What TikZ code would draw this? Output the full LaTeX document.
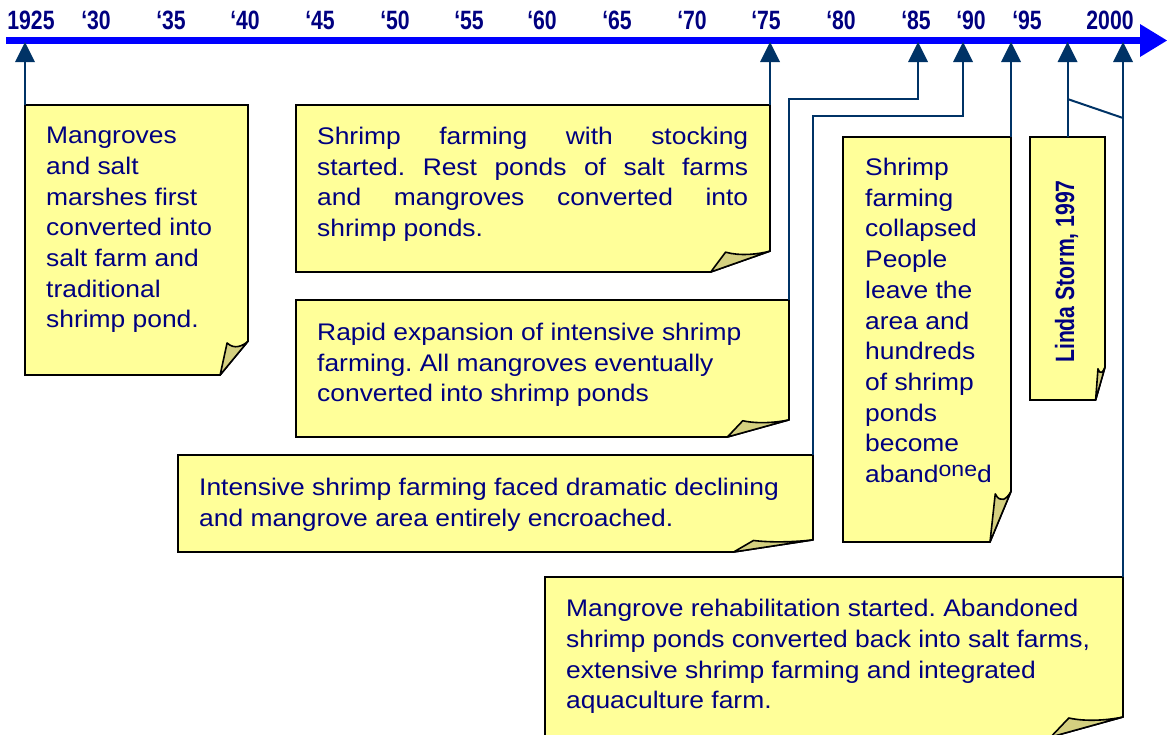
\documentclass[tikz,border=0pt]{standalone}
\usepackage{fontspec}
\newfontfamily\notefont[FakeStretch=1.1]{Liberation Sans}
\newfontfamily\yearfont[FakeStretch=0.8]{Liberation Sans}
\usetikzlibrary{arrows.meta,calc}
\frenchspacing
\definecolor{noteyellow}{RGB}{255,255,153}
\definecolor{curlolive}{RGB}{212,208,128}
\definecolor{inknavy}{RGB}{0,0,128}
\definecolor{linknavy}{RGB}{0,51,102}
\definecolor{axisblue}{RGB}{0,0,255}
\tikzset{
  axisline/.style={draw=axisblue, line width=7.5pt, -{Triangle[length=27pt,width=33pt,line width=0pt]}},
  link/.style={draw=linknavy, line width=2pt, -{Triangle[length=20pt,width=20pt,line width=0pt]}},
  plainlink/.style={draw=linknavy, line width=2pt},
  notebox/.style={anchor=north west, inner sep=0pt, outer sep=0pt},
  notebody/.style={fill=noteyellow, draw=black, line width=1.6pt},
  notecurl/.style={fill=curlolive, draw=black, line width=1.6pt, line join=round},
  notetext/.style={anchor=north west, inner sep=0pt, align=left, text=inknavy,
    font=\notefont\fontsize{24}{30.7}\selectfont, execute at begin node=\strut},
  year/.style={anchor=base, text=inknavy, font=\yearfont\bfseries\fontsize{26.5}{30}\selectfont}
}
% sticky note outline with the curled corner at the bottom right
\newcommand\foldbox[1]{%
  \path[notebody] let \p1=(#1.north west), \p2=(#1.south east),
      \n1={0.125*(\x2-\x1)}, \n2={0.125*(\y1-\y2)} in
    (\p1) -- (\x2,\y1) -- (\x2,\y2+\n2) -- (\x2-\n1,\y2) -- (\x1,\y2) -- cycle;
  \path[notecurl] let \p1=(#1.north west), \p2=(#1.south east),
      \n1={0.125*(\x2-\x1)}, \n2={0.125*(\y1-\y2)} in
    (\x2-\n1,\y2) -- (\x2-0.75*\n1,\y2+0.95*\n2)
      .. controls (\x2-0.5*\n1,\y2+0.75*\n2) and (\x2-0.2*\n1,\y2+0.85*\n2) .. (\x2,\y2+\n2)
      -- cycle;
}

\begin{document}
\begin{tikzpicture}[x=1pt, y=-1pt]
  \useasboundingbox (0,0) rectangle (1167,734);
  \clip (0,0) rectangle (1167,734);

  % time axis
  \coordinate (axis-w) at (6,40.5);
  \coordinate (axis-e) at (1167,40.5);
  \draw[axisline] (axis-w) -- (axis-e);

  \node[year] (yr25) at (31,29) {1925};
  \node[year] (yr30) at (96,29) {‘30};
  \node[year] (yr35) at (171,29) {‘35};
  \node[year] (yr40) at (245,29) {‘40};
  \node[year] (yr45) at (320,29) {‘45};
  \node[year] (yr50) at (395,29) {‘50};
  \node[year] (yr55) at (469,29) {‘55};
  \node[year] (yr60) at (542,29) {‘60};
  \node[year] (yr65) at (617,29) {‘65};
  \node[year] (yr70) at (692,29) {‘70};
  \node[year] (yr75) at (766,29) {‘75};
  \node[year] (yr80) at (841,29) {‘80};
  \node[year] (yr85) at (916,29) {‘85};
  \node[year] (yr90) at (971,29) {‘90};
  \node[year] (yr95) at (1027,29) {‘95};
  \node[year] (yr00) at (1110,29) {2000};

  % where the links meet the axis
  \coordinate (y1925) at (25,42);
  \coordinate (y1975) at (770,42);
  \coordinate (y1985) at (918,42);
  \coordinate (y1990) at (963,42);
  \coordinate (y1995) at (1011,42);
  \coordinate (y1997) at (1067.5,42);
  \coordinate (y2000) at (1123,42);
  \coordinate (bend85) at (918,99);
  \coordinate (bend90) at (963,116);
  \coordinate (kink97) at (1067.5,99);
  \coordinate (kink00) at (1123,118);

  % notes
  \node[notebox, minimum width=223pt, minimum height=270pt] (mangrove) at (25,105) {};
  \foldbox{mangrove}
  \node[notetext] (mangrove-txt) at ($(mangrove.north west)+(21,22)$)
    {Mangroves\\and salt\\marshes first\\converted into\\salt farm and\\traditional\\shrimp pond.};

  \node[notebox, minimum width=474pt, minimum height=167pt] (stocking) at (296,105) {};
  \foldbox{stocking}
  \node[notetext] (stocking-txt) at ($(stocking.north west)+(21,22)$)
    {\makebox[431pt][s]{Shrimp farming with stocking}\\
     \makebox[431pt][s]{started. Rest ponds of salt farms}\\
     \makebox[431pt][s]{and mangroves converted into}\\
     shrimp ponds.};

  \node[notebox, minimum width=493pt, minimum height=137pt] (expansion) at (296,300) {};
  \foldbox{expansion}
  \node[notetext] (expansion-txt) at ($(expansion.north west)+(21,23)$)
    {Rapid expansion of intensive shrimp\\farming. All mangroves eventually\\converted into shrimp ponds};

  \node[notebox, minimum width=635pt, minimum height=97pt] (decline) at (178,455) {};
  \foldbox{decline}
  \node[notetext] (decline-txt) at ($(decline.north west)+(21,23)$)
    {Intensive shrimp farming faced dramatic declining\\and mangrove area entirely encroached.};

  \node[notebox, minimum width=168pt, minimum height=405pt] (collapse) at (843,137) {};
  \foldbox{collapse}
  \node[notetext] (collapse-txt) at ($(collapse.north west)+(22,21)$)
    {Shrimp\\farming\\collapsed\\People\\leave the\\area and\\hundreds\\of shrimp\\ponds\\become\\
     aband\raisebox{6pt}{\fontsize{21}{21}\selectfont one}d};

  \node[notebox, minimum width=75pt, minimum height=263pt] (storm) at (1030,137) {};
  \foldbox{storm}
  \node[year, anchor=center, rotate=90] (storm-txt) at ($(storm.center)+(-1,3)$) {Linda Storm, 1997};

  \node[notebox, minimum width=578pt, minimum height=160pt] (rehab) at (545,577) {};
  \foldbox{rehab}
  \node[notetext] (rehab-txt) at ($(rehab.north west)+(21,22)$)
    {Mangrove rehabilitation started. Abandoned\\shrimp ponds converted back into salt farms,\\
     extensive shrimp farming and integrated\\aquaculture farm.};

  % links up to the axis
  \draw[link] (mangrove.north west) -- (y1925);
  \draw[link] (stocking.north east) -- (y1975);
  \draw[link] (expansion.north east) |- (bend85) -- (y1985);
  \draw[link] (decline.north east) |- (bend90) -- (y1990);
  \draw[link] (collapse.north east) -- (y1995);
  \draw[link] (storm.north) -- (y1997);
  \draw[link] (rehab.north east) -- (y2000);
  \draw[plainlink] (kink97) -- (kink00);
\end{tikzpicture}
\end{document}
